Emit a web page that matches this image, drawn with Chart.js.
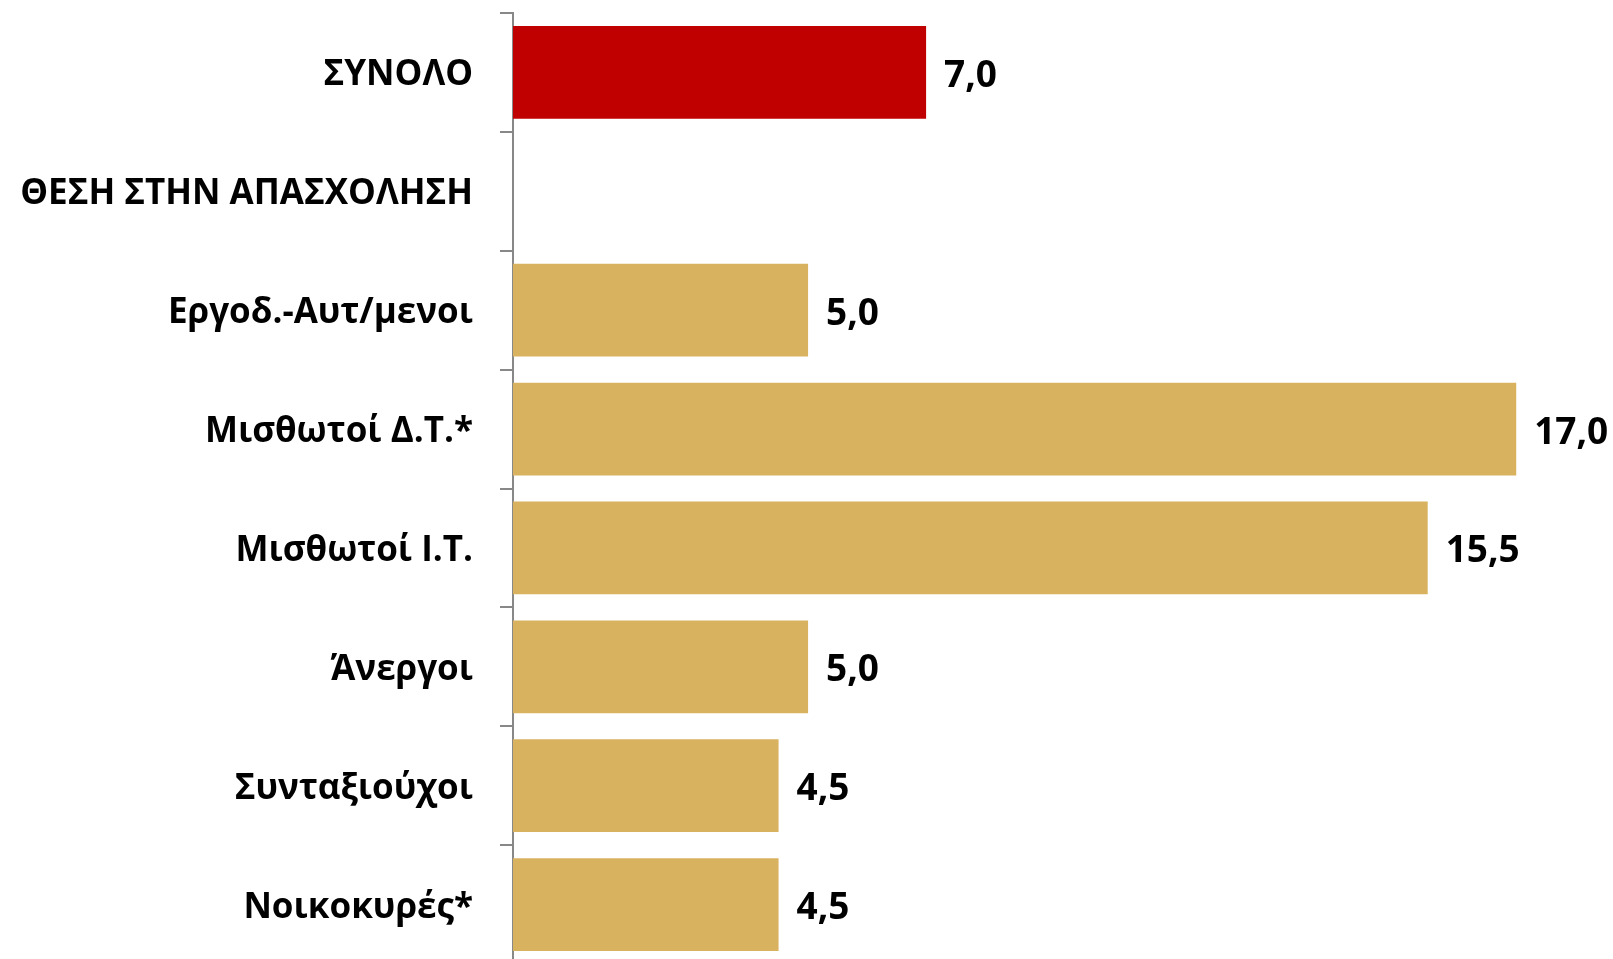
<!DOCTYPE html>
<html>
<head>
<meta charset="utf-8">
<script src="https://cdn.jsdelivr.net/npm/chart.js@4/dist/chart.umd.min.js"></script>
<style>
  html, body { margin: 0; padding: 0; background: #fff; overflow: hidden; }
  #wrap { width: 1613px; height: 964px; }
</style>
</head>
<body>
<div id="wrap"><canvas id="barChart"></canvas></div>
<script>
let categories = ["ΣΥΝΟΛΟ", "ΘΕΣΗ ΣΤΗΝ ΑΠΑΣΧΟΛΗΣΗ", "Εργοδ.-Αυτ/μενοι", "Μισθωτοί Δ.Τ.*", "Μισθωτοί Ι.Τ.", "Άνεργοι", "Συνταξιούχοι", "Νοικοκυρές*"];
let values = [7.0, null, 5.0, 17.0, 15.5, 5.0, 4.5, 4.5];
let bar_colors = ["#C00000", "#D9B25F", "#D9B25F", "#D9B25F", "#D9B25F", "#D9B25F", "#D9B25F", "#D9B25F"];

const fontFamily = "'Open Sans', sans-serif";

// draws the value next to the end of each bar
const valueLabels = {
  id: "valueLabels",
  afterDatasetsDraw(chart) {
    const ctx = chart.ctx;
    const meta = chart.getDatasetMeta(0);
    ctx.save();
    ctx.font = "bold 37px " + fontFamily;
    ctx.fillStyle = "#000";
    ctx.textAlign = "left";
    ctx.textBaseline = "middle";
    meta.data.forEach((bar, i) => {
      if (values[i] == null) return;
      ctx.fillText(values[i].toFixed(1).replace(".", ","), bar.x + 18, bar.y + 4);
    });
    ctx.restore();
  }
};

new Chart("barChart", {
  type: "bar",
  data: {
    labels: categories,
    datasets: [{
      data: values,
      backgroundColor: bar_colors,
      barPercentage: 0.78,
      categoryPercentage: 1.0
    }]
  },
  options: {
    indexAxis: "y",
    responsive: true,
    maintainAspectRatio: false,
    animation: false,
    layout: { padding: { top: 13, right: 0, bottom: 0, left: 0 } },
    plugins: {
      legend: { display: false },
      tooltip: { enabled: false }
    },
    scales: {
      x: {
        display: false,
        min: 0,
        max: 18.64
      },
      y: {
        afterFit(scale) {
          scale.width = 513;
          scale.paddingTop = 0;
          scale.paddingBottom = 0;
        },
        border: { display: true, color: "#888888", width: 2 },
        grid: {
          offset: true,
          drawOnChartArea: false,
          drawTicks: true,
          tickLength: 13,
          color: "#888888",
          lineWidth: 2
        },
        ticks: {
          padding: 27,
          labelOffset: 3,
          color: "#000",
          font: { family: fontFamily, size: 35, weight: "bold" }
        }
      }
    }
  },
  plugins: [valueLabels]
});
</script>
</body>
</html>
